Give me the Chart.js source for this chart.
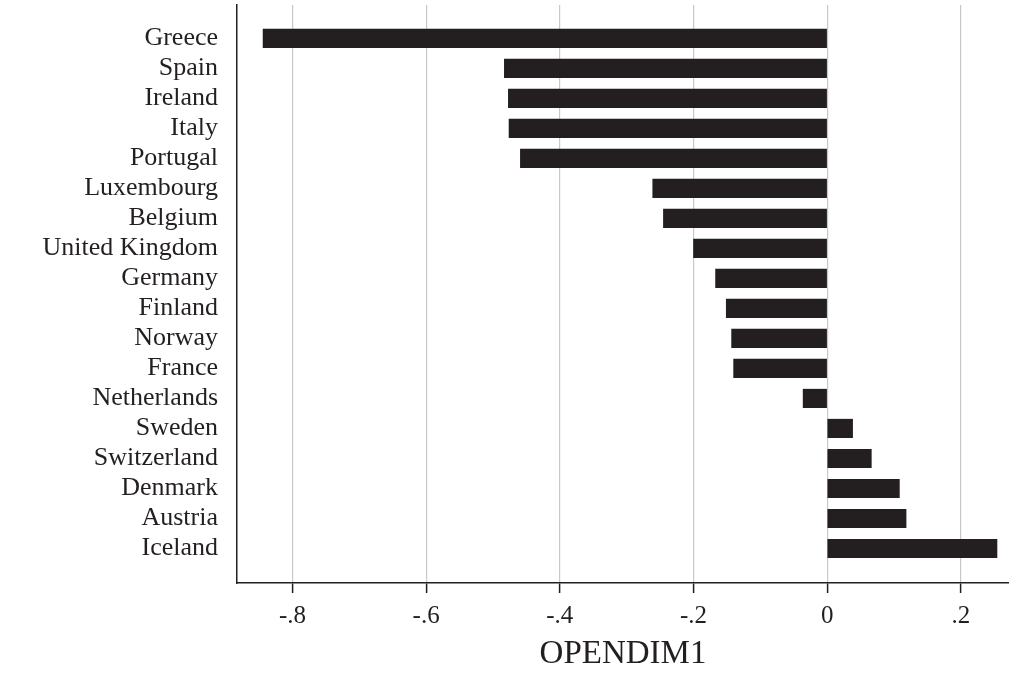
<!DOCTYPE html>
<html>
<head>
<meta charset="utf-8">
<script src="https://cdn.jsdelivr.net/npm/chart.js@4/dist/chart.umd.min.js"></script>
<style>
  html, body { margin: 0; padding: 0; background: #ffffff; }
  #wrap { width: 1009px; height: 674px; position: relative; }
</style>
</head>
<body>
<div id="wrap"><canvas id="openChart"></canvas></div>
<script>
// ====== DADOS ======
const countries = [
  'Greece', 'Spain', 'Ireland', 'Italy', 'Portugal', 'Luxembourg', 'Belgium',
  'United Kingdom', 'Germany', 'Finland', 'Norway', 'France', 'Netherlands',
  'Sweden', 'Switzerland', 'Denmark', 'Austria', 'Iceland'
];
const opendim1 = [
  -0.844, -0.483, -0.477, -0.476, -0.459, -0.261, -0.245,
  -0.200, -0.167, -0.151, -0.143, -0.140, -0.036,
  0.038, 0.066, 0.108, 0.118, 0.254
];
const xTicks = [-0.8, -0.6, -0.4, -0.2, 0, 0.2];
const xTitle = 'OPENDIM1';

// "-.8", "0", ".2" like the original
function fmtTick(v) {
  if (Math.abs(v) < 1e-9) return '0';
  return (v < 0 ? '-' : '') + Math.abs(v).toFixed(1).replace(/^0/, '');
}

const SERIF = "'Liberation Serif', 'Times New Roman', serif";
const points = opendim1.map((v, i) => ({ x: v, y: i }));

const X_MIN = -0.883, X_MAX = 0.272;
const Y_MIN = -1.11, Y_MAX = 18.15;

// ====== GRÁFICO ======
new Chart(document.getElementById('openChart'), {
  type: 'bar',
  data: {
    datasets: [{
      data: points,
      backgroundColor: '#231f20',
      borderWidth: 0,
      barThickness: 18.5
    }]
  },
  options: {
    indexAxis: 'y',
    responsive: true,
    maintainAspectRatio: false,
    animation: false,
    layout: { padding: { top: 5, right: 0, bottom: 0, left: 0 } },
    plugins: {
      legend: { display: false },
      tooltip: { enabled: false }
    },
    scales: {
      x: {
        type: 'linear',
        bounds: 'data',
        min: X_MIN,
        max: X_MAX,
        afterBuildTicks: (axis) => {
          axis.ticks = xTicks.map(v => ({ value: v }));
          axis.min = X_MIN;
          axis.max = X_MAX;
        },
        afterFit: (axis) => {
          axis.height = 91;
          axis.paddingLeft = 0;
          axis.paddingRight = 0;
        },
        ticks: {
          callback: (v) => fmtTick(v),
          color: '#231f20',
          font: { family: SERIF, size: 25 },
          padding: 8,
          maxRotation: 0
        },
        grid: {
          color: '#c8c8c8',
          lineWidth: 1.2,
          tickColor: '#231f20',
          tickLength: 10,
          tickWidth: 1.5
        },
        border: { display: true, color: '#231f20', width: 1.5 },
        title: {
          display: true,
          text: xTitle,
          color: '#231f20',
          font: { family: SERIF, size: 33 },
          padding: { top: 0, bottom: 0 }
        }
      },
      y: {
        type: 'linear',
        reverse: true,
        offset: false,
        bounds: 'data',
        min: Y_MIN,
        max: Y_MAX,
        afterBuildTicks: (axis) => {
          axis.ticks = countries.map((_, i) => ({ value: i }));
          axis.min = Y_MIN;
          axis.max = Y_MAX;
        },
        afterFit: (axis) => {
          axis.width = 237;
          axis.paddingTop = 0;
          axis.paddingBottom = 0;
        },
        ticks: {
          callback: (v) => countries[v],
          color: '#231f20',
          font: { family: SERIF, size: 26 },
          padding: 19,
          autoSkip: false
        },
        grid: { display: false, drawTicks: false },
        border: { display: true, color: '#231f20', width: 1.5 }
      }
    }
  }
});
</script>
</body>
</html>
